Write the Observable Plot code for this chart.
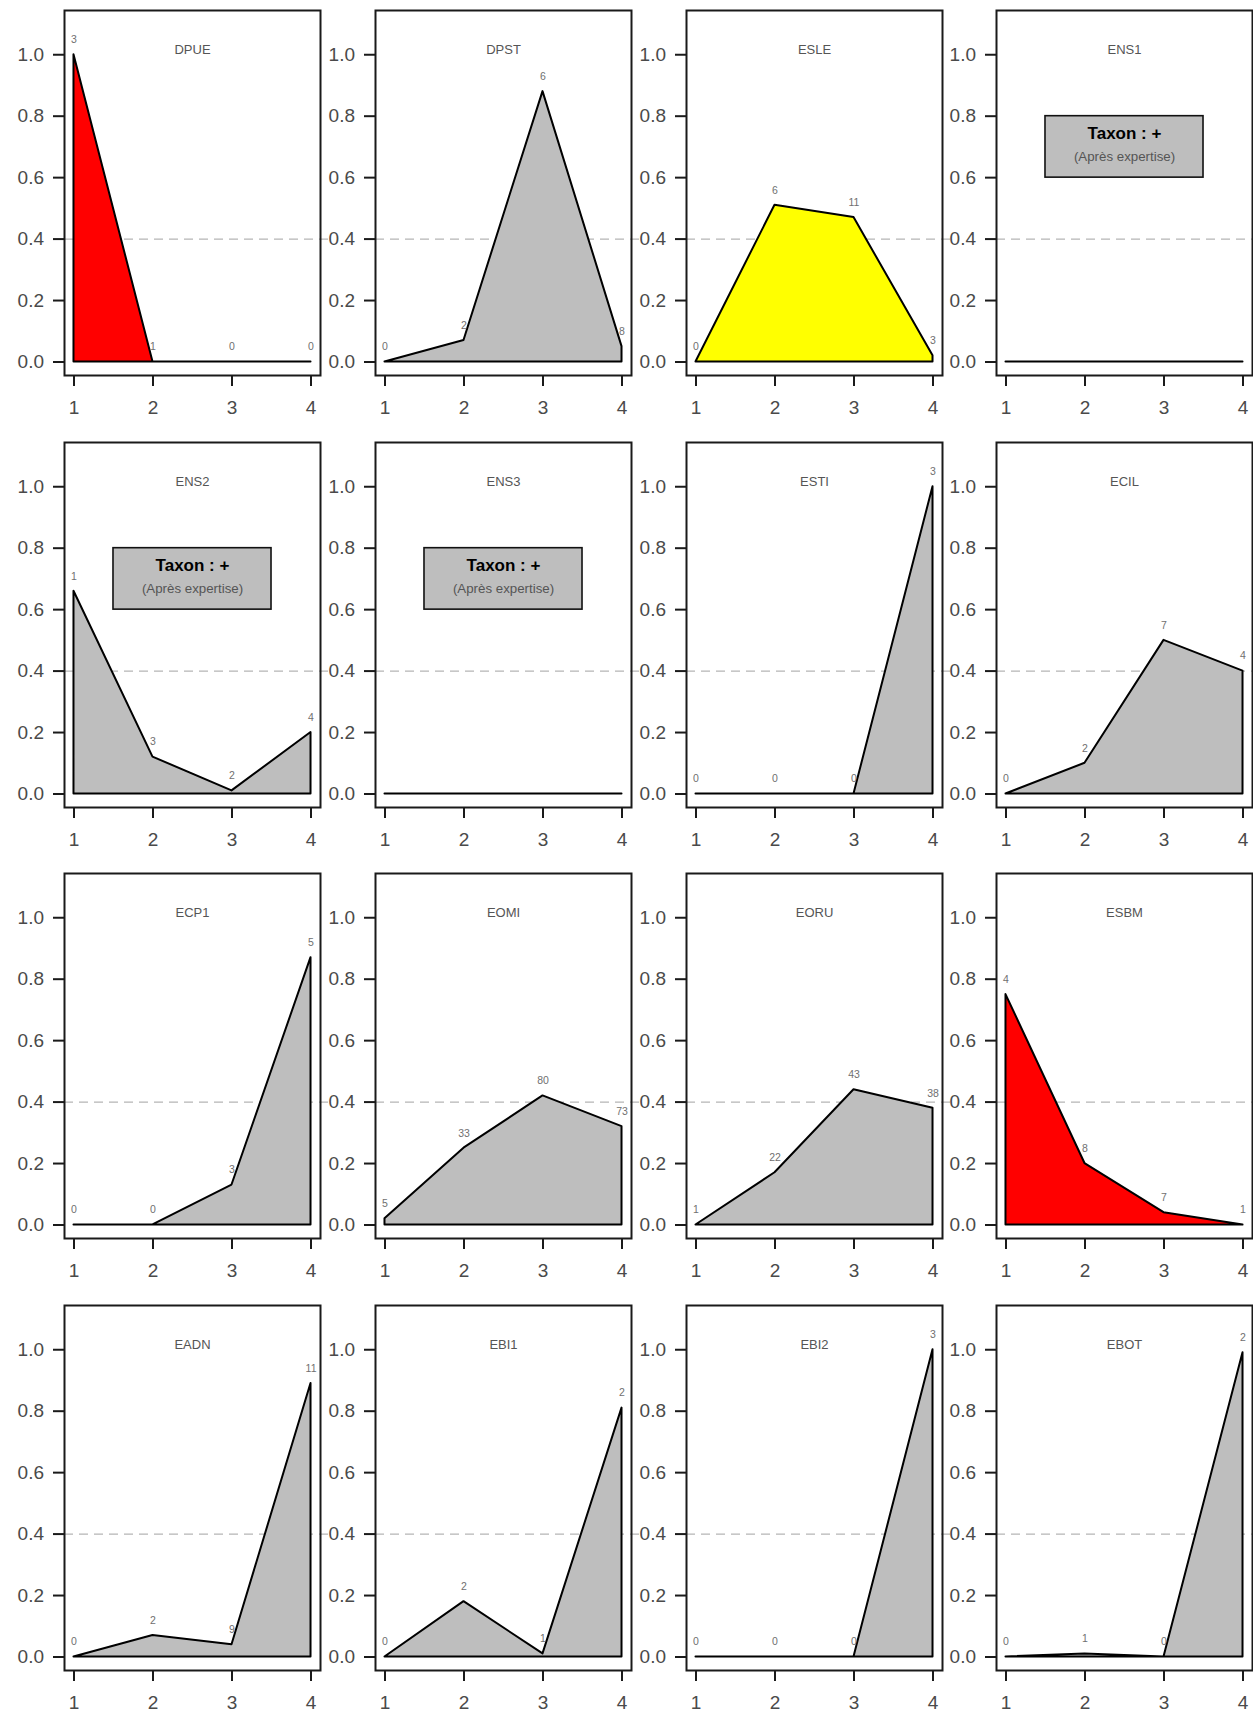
<!DOCTYPE html>
<html>
<head>
<meta charset="utf-8">
<script src="https://cdn.jsdelivr.net/npm/d3@7"></script>
<script src="https://cdn.jsdelivr.net/npm/@observablehq/plot@0.6"></script>
<style>
html, body { margin: 0; padding: 0; background: #fff; width: 1253px; height: 1712px; overflow: hidden; }
#root { position: relative; width: 1253px; height: 1712px; }
.panel { position: absolute; }
</style>
</head>
<body>
<div id="root"></div>
<script>
// ---- data ----
const classes = [1, 2, 3, 4];
const yTicks = [0, 0.2, 0.4, 0.6, 0.8, 1.0];
const threshold = 0.4;

const stations = ["DPUE", "DPST", "ESLE", "ENS1",
                  "ENS2", "ENS3", "ESTI", "ECIL",
                  "ECP1", "EOMI", "EORU", "ESBM",
                  "EADN", "EBI1", "EBI2", "EBOT"];

const valDPUE = [1.00, 0.00, 0.00, 0.00];  const cntDPUE = [3, 1, 0, 0];
const valDPST = [0.00, 0.07, 0.88, 0.05];  const cntDPST = [0, 2, 6, 8];
const valESLE = [0.00, 0.51, 0.47, 0.02];  const cntESLE = [0, 6, 11, 3];
const valENS1 = [0.00, 0.00, 0.00, 0.00];  const cntENS1 = null;
const valENS2 = [0.66, 0.12, 0.01, 0.20];  const cntENS2 = [1, 3, 2, 4];
const valENS3 = [0.00, 0.00, 0.00, 0.00];  const cntENS3 = null;
const valESTI = [0.00, 0.00, 0.00, 1.00];  const cntESTI = [0, 0, 0, 3];
const valECIL = [0.00, 0.10, 0.50, 0.40];  const cntECIL = [0, 2, 7, 4];
const valECP1 = [0.00, 0.00, 0.13, 0.87];  const cntECP1 = [0, 0, 3, 5];
const valEOMI = [0.02, 0.25, 0.42, 0.32];  const cntEOMI = [5, 33, 80, 73];
const valEORU = [0.00, 0.17, 0.44, 0.38];  const cntEORU = [1, 22, 43, 38];
const valESBM = [0.75, 0.20, 0.04, 0.00];  const cntESBM = [4, 8, 7, 1];
const valEADN = [0.00, 0.07, 0.04, 0.89];  const cntEADN = [0, 2, 9, 11];
const valEBI1 = [0.00, 0.18, 0.01, 0.81];  const cntEBI1 = [0, 2, 1, 2];
const valEBI2 = [0.00, 0.00, 0.00, 1.00];  const cntEBI2 = [0, 0, 0, 3];
const valEBOT = [0.00, 0.01, 0.00, 0.99];  const cntEBOT = [0, 1, 0, 2];

const values = [valDPUE, valDPST, valESLE, valENS1, valENS2, valENS3, valESTI, valECIL,
                valECP1, valEOMI, valEORU, valESBM, valEADN, valEBI1, valEBI2, valEBOT];
const counts = [cntDPUE, cntDPST, cntESLE, cntENS1, cntENS2, cntENS3, cntESTI, cntECIL,
                cntECP1, cntEOMI, cntEORU, cntESBM, cntEADN, cntEBI1, cntEBI2, cntEBOT];
// status class of each station -> fill
const status = ["red", "grey", "yellow", "grey",
                "grey", "grey", "grey", "grey",
                "grey", "grey", "grey", "red",
                "grey", "grey", "grey", "grey"];
const taxonPlus = ["ENS1", "ENS2", "ENS3"];
const boxTitle = "Taxon : +";
const boxSub = "(Après expertise)";

// ---- styles / layout ----
const fills = { red: "#FF0000", yellow: "#FFFF00", grey: "#BEBEBE" };
const FONT = "'Liberation Sans', Arial, Helvetica, sans-serif";
const frameW = 256, frameH = 365;
const ML = 60, MR = 12, MT = 10, MB = 50;
const colX0 = 64, colStep = 310.8;
const rowY0 = 10, rowStep = 431.7;

const root = document.getElementById("root");

stations.forEach((name, k) => {
  const vals = values[k];
  const cnt = counts[k];
  const data = classes.map((c, i) => ({ cls: c, p: vals[i], n: cnt ? cnt[i] : null }));
  const labelled = data.filter(d => d.n !== null);

  const marks = [
    Plot.ruleY([threshold], { stroke: "#b5b5b5", strokeWidth: 1.4, strokeDasharray: "9,6", insetRight: -9 }),
    Plot.areaY(data, { x: "cls", y: "p", fill: fills[status[k]], stroke: "#000", strokeWidth: 2, strokeLinejoin: "round" }),
    Plot.frame({ stroke: "#1a1a1a", strokeWidth: 2 }),
    Plot.axisY({ ticks: yTicks, tickSize: 11, tickPadding: 9.5, tickFormat: d3.format(".1f"),
                 fontSize: 19, fill: "#4a4a4a", stroke: "#1a1a1a", strokeWidth: 2, label: null }),
    Plot.axisX({ ticks: classes, tickSize: 11, tickPadding: 14, tickFormat: d => String(d),
                 fontSize: 19, fill: "#4a4a4a", stroke: "#1a1a1a", strokeWidth: 2, label: null }),
    Plot.text([name], { frameAnchor: "top", dy: 34, fontSize: 13, fill: "#555" }),
    Plot.text(labelled, { x: "cls", y: "p", text: d => String(d.n), dy: -15, fontSize: 10.5, fill: "#707070" })
  ];

  if (taxonPlus.includes(name)) {
    marks.push(
      Plot.rect([{ a: 1.5, b: 3.5, c: 0.6, d: 0.8 }], { x1: "a", x2: "b", y1: "c", y2: "d",
                 fill: "#BEBEBE", stroke: "#111", strokeWidth: 1.6 }),
      Plot.text([boxTitle], { y: () => 0.7, dy: -13.5, fontSize: 17, fontWeight: "bold", fill: "#000" }),
      Plot.text([boxSub], { y: () => 0.7, dy: 9.5, fontSize: 13.3, fill: "#555" })
    );
  }

  const svg = Plot.plot({
    width: ML + frameW + MR,
    height: MT + frameH + MB,
    marginLeft: ML, marginRight: MR, marginTop: MT, marginBottom: MB,
    x: { domain: [0.88, 4.12] },
    y: { domain: [-0.044, 1.144] },
    style: { fontFamily: FONT, background: "transparent", overflow: "visible" },
    marks
  });
  const col = k % 4, row = Math.floor(k / 4);
  svg.classList.add("panel");
  svg.style.left = (colX0 + col * colStep - ML) + "px";
  svg.style.top = (rowY0 + row * rowStep - MT) + "px";
  root.appendChild(svg);
});
</script>
</body>
</html>
